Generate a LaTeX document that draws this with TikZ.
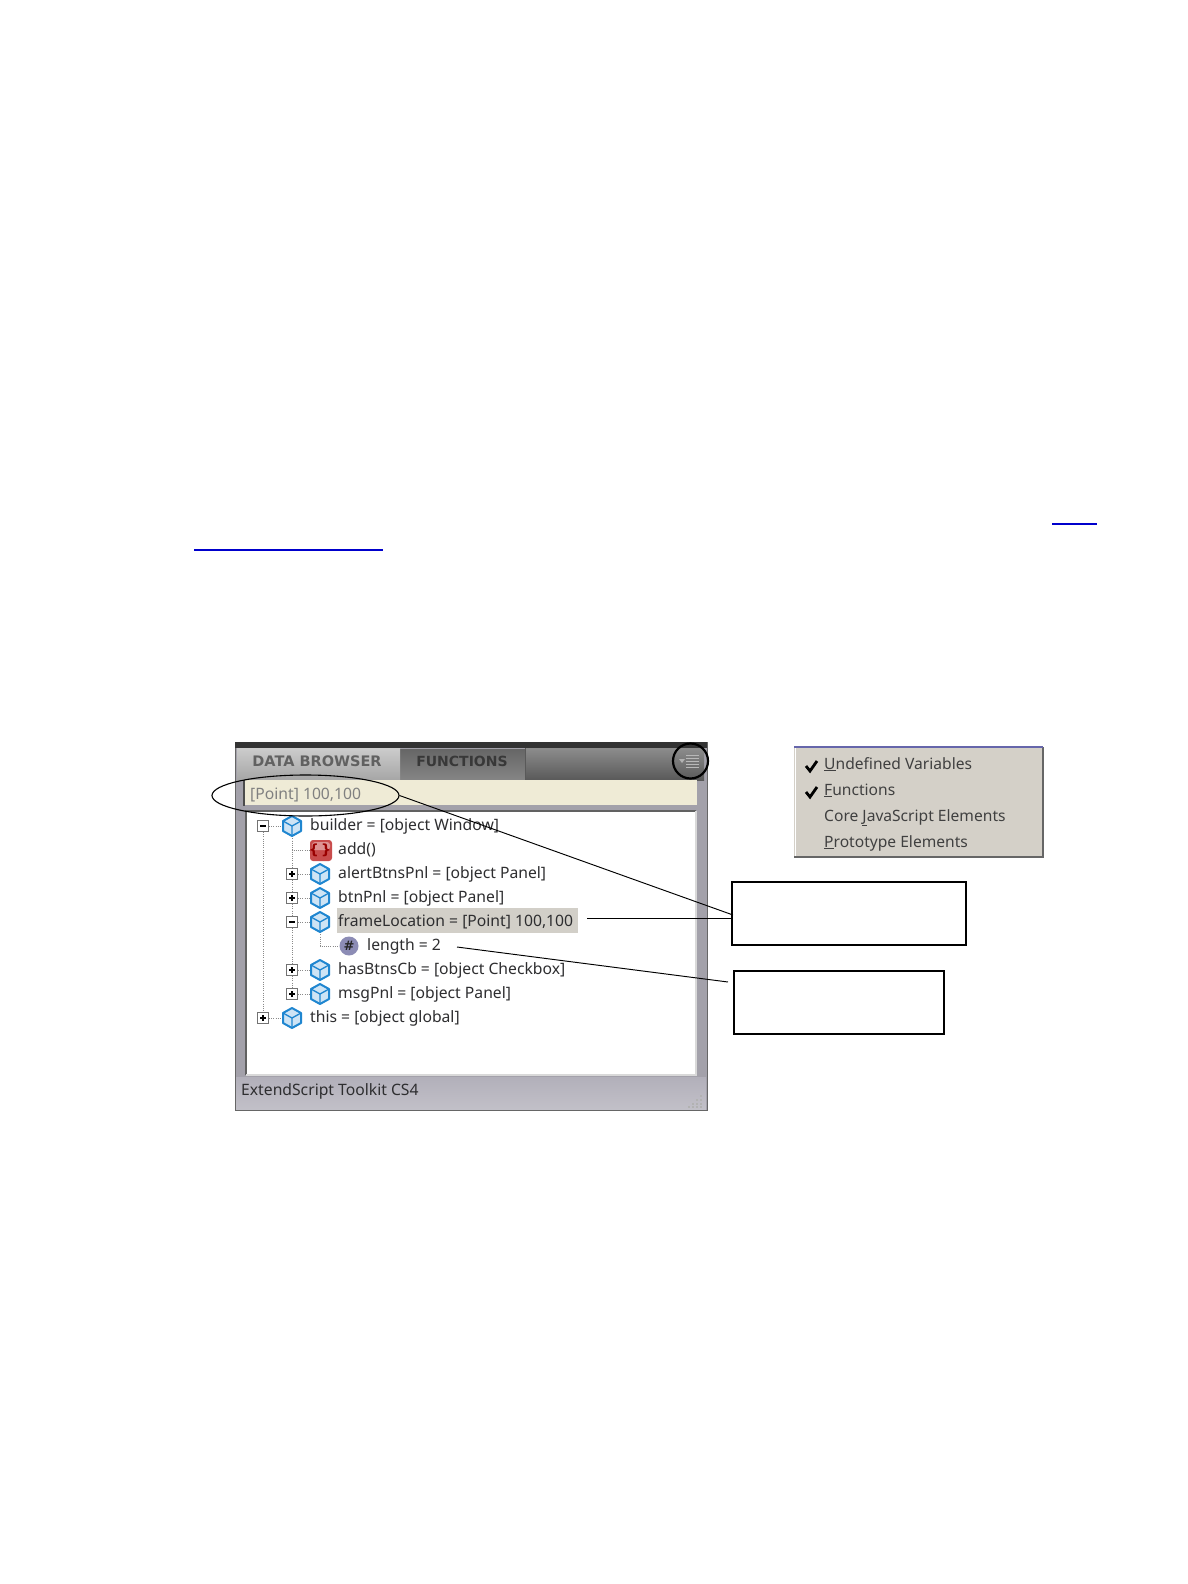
\documentclass[tikz,border=0pt]{standalone}
\usepackage{fontspec}
\setmainfont{Noto Sans}
\newfontfamily\tabfont{DejaVu Sans}
\usetikzlibrary{shapes.geometric,calc}
\definecolor{frameC}{HTML}{A3A1AA}
\definecolor{statusC}{HTML}{B2B0BA}
\definecolor{fieldC}{HTML}{EFEBD6}
\definecolor{menuC}{HTML}{D4D0C8}
\definecolor{hiC}{HTML}{D2CFC8}
\definecolor{txtC}{HTML}{2E2E30}
\definecolor{cubeC}{HTML}{1F86D0}
\definecolor{dotC}{HTML}{8A8A8A}
\definecolor{linkC}{HTML}{0000CC}
\tikzset{
  x=1pt,y=-1pt,
  treetext/.style={anchor=west,inner sep=0pt,text=txtC,text height=12pt,text depth=4pt,font=\fontsize{15.7}{18}\selectfont},
  menutext/.style={anchor=west,inner sep=0pt,text=black!75,text height=12pt,text depth=4pt,font=\fontsize{15.6}{18}\selectfont},
  iconspot/.style={circle,minimum size=20pt,inner sep=0pt},
  plusbox/.style={draw=black!55,fill=white,line width=.9pt,minimum size=11pt,inner sep=0pt,
    path picture={\draw[black,line width=1.1pt] ([xshift=-3pt]path picture bounding box.center) -- ([xshift=3pt]path picture bounding box.center);
                  \draw[black,line width=1.1pt] ([yshift=-3pt]path picture bounding box.center) -- ([yshift=3pt]path picture bounding box.center);}},
  minusbox/.style={draw=black!55,fill=white,line width=.9pt,minimum size=11pt,inner sep=0pt,
    path picture={\draw[black,line width=1.1pt] ([xshift=-3pt]path picture bounding box.center) -- ([xshift=3pt]path picture bounding box.center);}},
  treedots/.style={dotC,line width=.9pt,dash pattern=on 1pt off 1.2pt},
  callout/.style={draw=black,line width=2pt,fill=white,inner sep=0pt},
  leader/.style={draw=black,line width=.95pt},
}
\newcommand{\cubeat}[1]{%
  \begin{scope}[shift={(#1)}]
    \fill[cubeC!22] (0,-10) -- (9,-5) -- (9,5) -- (0,10) -- (-9,5) -- (-9,-5) -- cycle;
    \draw[cubeC,line width=2pt,line join=round] (0,-10) -- (9,-5) -- (9,5) -- (0,10) -- (-9,5) -- (-9,-5) -- cycle;
    \draw[cubeC,line width=1.3pt,line join=round] (-9,-5) -- (0,0) -- (9,-5) (0,0) -- (0,10);
  \end{scope}}
\begin{document}
\begin{tikzpicture}
\useasboundingbox (0,0) rectangle (1188,1584);
\fill[white] (0,0) rectangle (1188,1584);
% hyperlink underlines
\draw[linkC,line width=1.4pt] (1052,524) -- (1097,524);
\draw[linkC,line width=1.4pt] (194,550) -- (383,550);
% panel
\fill[frameC] (235,742) rectangle (707,1110);
\draw[black!60,line width=1pt] (235,742) rectangle (707,1110);
\fill[black!80] (235,742) rectangle (707,748);
\shade[top color=black!45,bottom color=black!65] (525,748) rectangle (704,780);
\shade[top color=black!60,bottom color=black!48] (400,749) rectangle (525,780);
\draw[black!65,line width=1pt] (525,748) -- (525,780);
\shade[top color=black!20,bottom color=black!35] (237,748) rectangle (400,780);
\node[inner sep=0pt,text=black!62,font=\tabfont\bfseries\fontsize{14.5}{16}\selectfont] (tabData) at (317,761) {DATA BROWSER};
\node[inner sep=0pt,text=black!78,font=\tabfont\bfseries\fontsize{14}{16}\selectfont] (tabFunc) at (462,761) {FUNCTIONS};
% menu icon
\fill[black!30] (679,759) -- (685,759) -- (682,763) -- cycle;
\foreach \yy in {755,758,761,764,767}{\draw[black!28,line width=1pt] (686,\yy) -- (699,\yy);}
% field
\fill[fieldC] (244,780) rectangle (697,805);
\draw[black!70,line width=1.6pt] (244,780) -- (244,806);
\node[treetext,text=black!50] (fieldTxt) at (250,795) {[Point] 100,100};
% tree
\fill[white] (245,811) rectangle (697,1075);
\draw[black!62,line width=1.5pt] (246,1075) -- (246,811) -- (696,811);
\draw[black!15,line width=1.5pt] (696,811) -- (696,1075) -- (246,1075);
% highlight
\fill[hiC] (337,908) rectangle (578,933);
% tree marker nodes
\node[minusbox] (bBuilder) at (263,826) {};
\node[plusbox] (bThis) at (263,1018) {};
\node[plusbox] (bAlert) at (292,874) {};
\node[plusbox] (bBtn) at (292,898) {};
\node[minusbox] (bFrame) at (292,922) {};
\node[plusbox] (bHas) at (292,970) {};
\node[plusbox] (bMsg) at (292,994) {};
\node[iconspot] (iBuilder) at (292,826) {};
\node[iconspot] (iAdd) at (320,850) {};
\node[iconspot] (iAlert) at (320,874) {};
\node[iconspot] (iBtn) at (320,898) {};
\node[iconspot] (iFrame) at (320,922) {};
\node[iconspot] (iLen) at (349,946) {};
\node[iconspot] (iHas) at (320,970) {};
\node[iconspot] (iMsg) at (320,994) {};
\node[iconspot] (iThis) at (292,1018) {};
% dotted tree connectors
\draw[treedots] (bBuilder.south) -- (bThis.north);
\draw[treedots] (iBuilder.south) -- (bAlert.north);
\draw[treedots] (bAlert.south) -- (bBtn.north);
\draw[treedots] (bBtn.south) -- (bFrame.north);
\draw[treedots] (bFrame.south) -- (bHas.north);
\draw[treedots] (bHas.south) -- (bMsg.north);
\draw[treedots] (iBuilder.south) |- (iAdd.west);
\draw[treedots] (bBuilder.east) -- (iBuilder.west);
\draw[treedots] (bThis.east) -- (iThis.west);
\draw[treedots] (bAlert.east) -- (iAlert.west);
\draw[treedots] (bBtn.east) -- (iBtn.west);
\draw[treedots] (bFrame.east) -- (iFrame.west);
\draw[treedots] (bHas.east) -- (iHas.west);
\draw[treedots] (bMsg.east) -- (iMsg.west);
\draw[treedots] (iFrame.south) |- (iLen.west);
% icons
\cubeat{iBuilder}\cubeat{iAlert}\cubeat{iBtn}\cubeat{iFrame}\cubeat{iHas}\cubeat{iMsg}\cubeat{iThis}
\fill[red!70!black!70,rounded corners=3pt] (310,840) rectangle (332,861);
\fill[white,opacity=.4,rounded corners=3pt] (312,842) rectangle (330,850);
\node[inner sep=0pt,text=red!60!black,font=\tabfont\bfseries\fontsize{14}{16}\selectfont] (addGlyph) at (iAdd) {\{\,\}};
\fill[blue!35!black!45] (iLen) circle (9.5pt);
\node[inner sep=0pt,text=black!85,font=\tabfont\bfseries\fontsize{13}{16}\selectfont] (lenGlyph) at (iLen) {\#};
% tree labels
\node[treetext] (tBuilder) at (310,826) {builder = [object Window]};
\node[treetext] (tAdd) at (338,850) {add()};
\node[treetext] (tAlert) at (338,874) {alertBtnsPnl = [object Panel]};
\node[treetext] (tBtn) at (338,898) {btnPnl = [object Panel]};
\node[treetext] (tFrame) at (338,922) {frameLocation = [Point] 100,100};
\node[treetext] (tLen) at (367,946) {length = 2};
\node[treetext] (tHas) at (338,970) {hasBtnsCb = [object Checkbox]};
\node[treetext] (tMsg) at (338,994) {msgPnl = [object Panel]};
\node[treetext] (tThis) at (310,1018) {this = [object global]};
% status bar
\shade[top color=statusC,bottom color=statusC!80] (236,1077) rectangle (706,1109);
\node[treetext] (tStatus) at (241,1091) {ExtendScript Toolkit CS4};
\foreach \p/\q in {700/1095,696/1099,700/1099,692/1103,696/1103,700/1103,688/1106,692/1106,696/1106,700/1106}{\fill[black!30] (\p,\q) rectangle +(1.6,1.6);}
% menu
\fill[menuC] (794,747) rectangle (1043,857);
\draw[black!60,line width=1.2pt] (794,857) -- (1043,857) -- (1043,747);
\draw[black!55!blue!60,line width=1.4pt] (794,747) -- (1043,747);
\draw[white,line width=1pt] (795,748) -- (795,856);
\node[menutext] (m1) at (824,765) {\underline{U}ndefined Variables};
\node[menutext] (m2) at (824,791) {\underline{F}unctions};
\node[menutext] (m3) at (824,817) {Core \underline{J}avaScript Elements};
\node[menutext] (m4) at (824,843) {\underline{P}rototype Elements};
\draw[black,line width=2.8pt] (806,766) -- (810,771) -- (817,761);
\draw[black,line width=2.8pt] (806,792) -- (810,797) -- (817,787);
% callout boxes
\node[callout,minimum width=234pt,minimum height=63pt] (boxA) at (849,913.5) {};
\node[callout,minimum width=210pt,minimum height=63pt] (boxB) at (839,1002.5) {};
% annotations
\node[ellipse,draw=black,line width=1.1pt,minimum width=187pt,minimum height=41pt,inner sep=0pt] (ell) at (305.5,795.5) {};
\node[ellipse,draw=black,line width=2.2pt,minimum width=35pt,minimum height=35pt,inner sep=0pt] (circ) at (690.5,761) {};
\coordinate (a1) at ($(boxA.west)+(2,1.5)$);
\coordinate (a2) at ($(boxA.west)+(2,4.5)$);
\coordinate (s2) at (587,918);
\coordinate (s3) at (457,947);
\coordinate (a3) at (728,982);
\draw[leader] (ell.east) -- (a1);
\draw[leader] (s2) -- (a2);
\draw[leader] (s3) -- (a3);
\end{tikzpicture}
\end{document}
